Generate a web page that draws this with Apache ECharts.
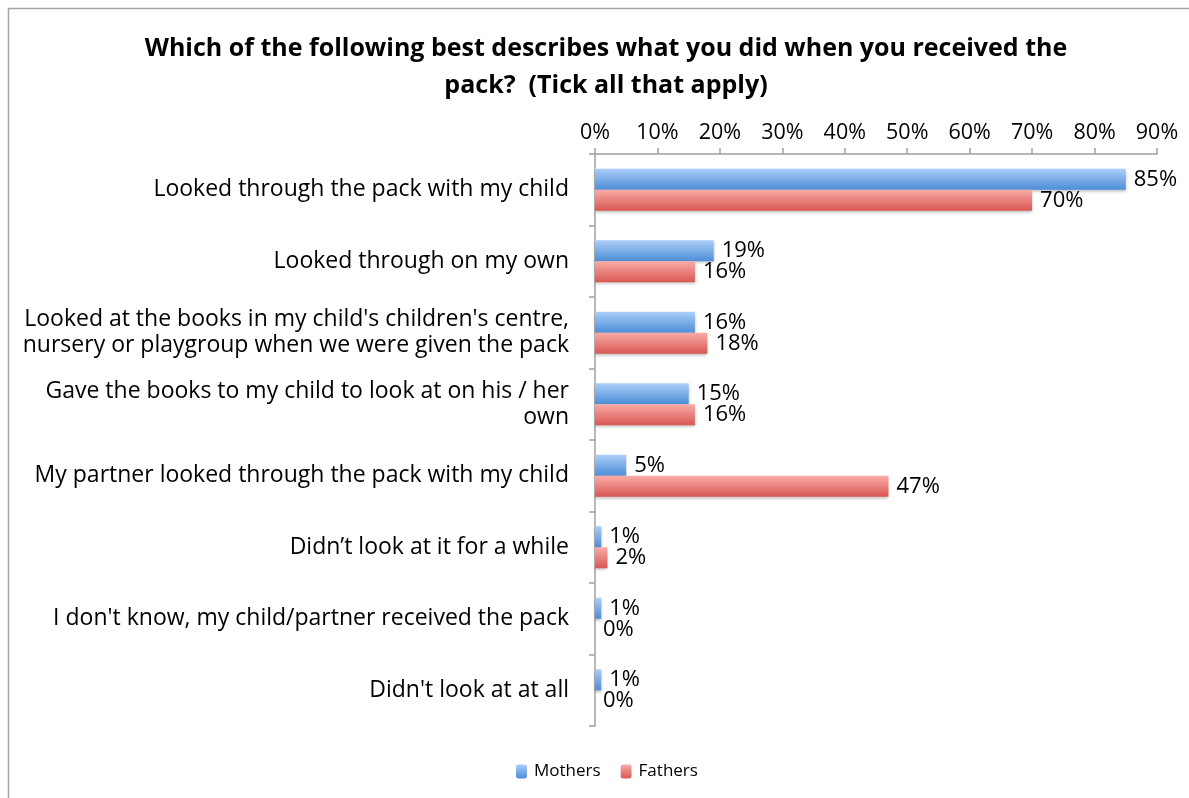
<!DOCTYPE html>
<html>
<head>
<meta charset="utf-8">
<script src="https://cdn.jsdelivr.net/npm/echarts@6/dist/echarts.min.js"></script>
<style>
  html, body { margin: 0; padding: 0; background: #ffffff; }
  #chart { width: 1189px; height: 798px; }
</style>
</head>
<body>
<div id="chart"></div>
<script>
// Survey responses (percent of respondents)
const categories = [
  "Looked through the pack with my child",
  "Looked through on my own",
  "Looked at the books in my child's children's centre,\nnursery or playgroup when we were given the pack",
  "Gave the books to my child to look at on his / her\nown",
  "My partner looked through the pack with my child",
  "Didn\u2019t look at it for a while",
  "I don't know, my child/partner received the pack",
  "Didn't look at at all"
];
const mothers = [85, 19, 16, 15, 5, 1, 1, 1];
const fathers = [70, 16, 18, 16, 47, 2, 0, 0];
const titleText = "Which of the following best describes what you did when you received the\npack?  (Tick all that apply)";

const FONT = "'Open Sans', 'Noto Sans', sans-serif";

function grad(top, bottom) {
  return new echarts.graphic.LinearGradient(0, 0, 0, 1, [
    { offset: 0, color: top },
    { offset: 1, color: bottom }
  ]);
}

const chart = echarts.init(document.getElementById('chart'), null, { renderer: 'canvas' });

const labelStyle = {
  show: true,
  position: 'right',
  distance: 8,
  fontFamily: FONT,
  fontSize: 22,
  color: '#000',
  formatter: p => p.value + '%'
};

chart.setOption({
  backgroundColor: '#ffffff',
  animation: false,
  title: {
    text: titleText,
    left: 601,
    textAlign: 'center',
    top: 25,
    textStyle: {
      fontFamily: FONT,
      fontWeight: 'bold',
      fontSize: 25,
      lineHeight: 37,
      color: '#000'
    }
  },
  graphic: [{
    type: 'rect',
    shape: { x: 8.5, y: 8.5, width: 1200, height: 800 },
    style: { fill: 'none', stroke: '#a6a6a6', lineWidth: 1.5 },
    silent: true,
    z: -1
  }],
  legend: {
    bottom: 13,
    left: 511,
    itemWidth: 11,
    itemHeight: 14,
    itemGap: 20,
    textStyle: { fontFamily: FONT, fontSize: 17, color: '#000', padding: [0, 0, 0, 2] },
    data: ['Mothers', 'Fathers']
  },
  grid: {
    left: 595,
    right: 32,
    top: 154,
    bottom: 72,
    containLabel: false
  },
  xAxis: {
    type: 'value',
    position: 'top',
    min: 0,
    max: 90,
    interval: 10,
    axisLine: { show: true, lineStyle: { color: '#a0a0a0', width: 1.5 } },
    axisTick: { show: true, inside: false, length: 6, lineStyle: { color: '#a0a0a0', width: 1.5 } },
    axisLabel: {
      formatter: v => v + '%',
      fontFamily: FONT,
      fontSize: 21.5,
      color: '#000',
      margin: 10
    },
    splitLine: { show: false }
  },
  yAxis: {
    type: 'category',
    inverse: true,
    data: categories,
    axisLine: { show: true, lineStyle: { color: '#a0a0a0', width: 1.5 } },
    axisTick: { show: true, length: 6, lineStyle: { color: '#a0a0a0', width: 1.5 } },
    axisLabel: {
      fontFamily: FONT,
      fontSize: 23,
      lineHeight: 26,
      color: '#000',
      margin: 26,
      align: 'right',
      padding: [9, 0, 0, 0]
    }
  },
  series: [
    {
      name: 'Mothers',
      type: 'bar',
      data: mothers,
      barWidth: 21,
      barGap: '0%',
      itemStyle: {
        color: grad('#abcef8', '#4d8dd7'),
        shadowColor: 'rgba(0,0,0,0.25)',
        shadowBlur: 3,
        shadowOffsetY: 2
      },
      label: labelStyle
    },
    {
      name: 'Fathers',
      type: 'bar',
      data: fathers,
      barWidth: 21,
      barGap: '0%',
      itemStyle: {
        color: grad('#f8aca8', '#da5752'),
        shadowColor: 'rgba(0,0,0,0.25)',
        shadowBlur: 3,
        shadowOffsetY: 2
      },
      label: labelStyle
    }
  ]
});
</script>
</body>
</html>
